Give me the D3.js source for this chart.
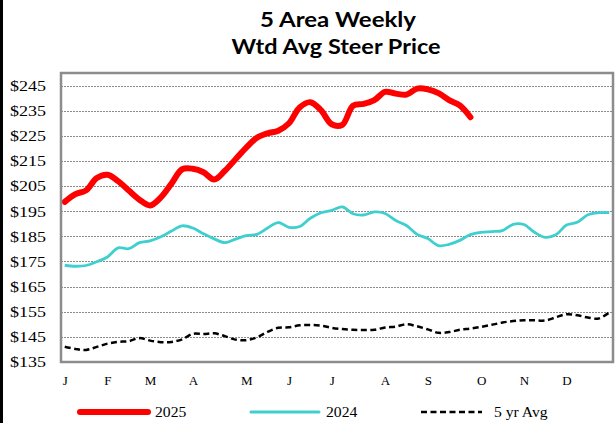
<!DOCTYPE html>
<html>
<head>
<meta charset="utf-8">
<script src="https://cdn.jsdelivr.net/npm/d3@7"></script>
<style>
  body { margin: 0; background: #fff; }
  svg { display: block; }
</style>
</head>
<body>
<script>
// weekly data
var weeks = d3.range(1, 53);

var monthLabels = ["J", "F", "M", "A", "M", "J", "J", "A", "S", "O", "N", "D"];
var monthWeeks  = [1, 5, 9, 13, 18, 22, 26, 31, 35, 40, 44, 48];

var yTicks = [135, 145, 155, 165, 175, 185, 195, 205, 215, 225, 235, 245];

var price2025 = [198.7, 201.8, 203.3, 208.2, 209.5, 207.0, 203.2, 199.6, 197.3, 200.5,
                 206.0, 211.7, 211.9, 210.5, 207.6, 211.1, 215.7, 220.3, 224.2, 226.0,
                 227.0, 230.0, 236.3, 238.4, 235.2, 229.6, 229.4, 237.0, 237.7, 239.2,
                 242.5, 241.8, 241.4, 243.8, 243.5, 242.0, 239.2, 237.1, 232.4];

var price2024 = [173.5, 173.1, 173.4, 174.9, 176.8, 180.4, 180.1, 182.5, 183.2, 184.8,
                 187.1, 189.2, 188.3, 186.0, 184.0, 182.5, 183.9, 185.3, 185.8, 188.3,
                 190.5, 188.6, 188.9, 192.2, 194.4, 195.3, 196.7, 194.0, 193.5, 194.7,
                 194.1, 191.3, 189.3, 185.8, 184.1, 181.3, 181.8, 183.4, 185.7, 186.6,
                 186.9, 187.3, 189.8, 189.7, 186.6, 184.6, 185.6, 189.5, 190.6, 193.6,
                 194.4, 194.4];

var price5yr = [141.1, 140.2, 139.8, 141.0, 142.3, 143.0, 143.3, 144.5, 143.5, 142.9,
                143.0, 144.0, 146.2, 146.1, 146.4, 145.3, 143.9, 143.7, 144.8, 147.0,
                148.6, 148.8, 149.6, 149.7, 149.5, 148.6, 148.1, 147.8, 147.7, 147.8,
                148.7, 149.1, 150.0, 149.2, 148.0, 146.6, 146.9, 147.8, 148.3, 149.0,
                149.8, 150.7, 151.3, 151.6, 151.6, 151.5, 152.8, 154.0, 153.6, 152.7,
                152.3, 154.7];

var seriesNames = ["2025", "2024", "5 yr Avg"];

// speelveld
var W = 615, H = 423;
var plot = {left: 61, right: 613, top: 73, bottom: 362};

var svg = d3.select("body").append("svg")
    .attr("width", W)
    .attr("height", H);

svg.append("rect").attr("width", W).attr("height", H).attr("fill", "#fff");
// black strip on the left edge of the original picture
svg.append("rect").attr("x", 0).attr("y", 0).attr("width", 3).attr("height", H).attr("fill", "#000");

var x = d3.scalePoint().domain(weeks).range([plot.left, plot.right]).padding(0.35);
var y = d3.scaleLinear().domain([135, 250]).range([plot.bottom, plot.top]);

// title
var title = svg.append("g")
    .attr("font-family", "Lato, 'Open Sans', sans-serif")
    .attr("font-weight", "bold")
    .attr("font-size", "21px")
    .attr("fill", "#000")
    .attr("text-anchor", "middle");
title.append("text").attr("x", 338).attr("y", 27)
    .attr("textLength", 156).attr("lengthAdjust", "spacingAndGlyphs")
    .text("5 Area Weekly");
title.append("text").attr("x", 336).attr("y", 54)
    .attr("textLength", 209).attr("lengthAdjust", "spacingAndGlyphs")
    .text("Wtd Avg Steer Price");

// gridlines
svg.append("g")
  .selectAll("line")
  .data(yTicks.filter(function(d) { return d > 135; }))
  .enter().append("line")
    .attr("x1", plot.left)
    .attr("x2", plot.right)
    .attr("y1", function(d) { return Math.round(y(d)) + 0.5; })
    .attr("y2", function(d) { return Math.round(y(d)) + 0.5; })
    .attr("stroke", "#8a8a8a")
    .attr("stroke-width", 1)
    .attr("stroke-dasharray", "2,1");

// y as
var yAxis = svg.append("g")
    .attr("transform", "translate(46,0)")
    .call(d3.axisLeft(y).tickValues(yTicks).tickSize(0).tickPadding(0)
      .tickFormat(function(d) { return "$" + d; }));
yAxis.select(".domain").remove();
yAxis.selectAll("text")
    .attr("font-family", "'Liberation Serif', 'Times New Roman', serif")
    .attr("font-size", "15px")
    .attr("fill", "#000")
    .attr("transform", "scale(1.2,1)")
    .attr("x", 0);

// x as
var xAxis = svg.append("g")
    .attr("transform", "translate(0," + plot.bottom + ")")
    .call(d3.axisBottom(x).tickValues(monthWeeks).tickSize(0).tickPadding(14)
      .tickFormat(function(d, i) { return monthLabels[i]; }));
xAxis.select(".domain").remove();
xAxis.selectAll("text")
    .attr("font-family", "'Liberation Serif', 'Times New Roman', serif")
    .attr("font-size", "13px")
    .attr("fill", "#000");

// lijnen
var line = d3.line()
    .x(function(d, i) { return x(weeks[i]); })
    .y(function(d) { return y(d); })
    .curve(d3.curveCatmullRom.alpha(0.5));

svg.append("path")
    .datum(price5yr)
    .attr("fill", "none")
    .attr("stroke", "#000")
    .attr("stroke-width", 2.5)
    .attr("stroke-dasharray", "6,3.5")
    .attr("d", line);

svg.append("path")
    .datum(price2024)
    .attr("fill", "none")
    .attr("stroke", "#40cfcf")
    .attr("stroke-width", 2.8)
    .attr("stroke-linejoin", "round")
    .attr("d", line);

svg.append("path")
    .datum(price2025)
    .attr("fill", "none")
    .attr("stroke", "#ff0000")
    .attr("stroke-width", 6)
    .attr("stroke-linecap", "round")
    .attr("stroke-linejoin", "round")
    .attr("d", line);

// frame
svg.append("rect")
    .attr("x", plot.left)
    .attr("y", plot.top)
    .attr("width", plot.right - plot.left)
    .attr("height", plot.bottom - plot.top)
    .attr("fill", "none")
    .attr("stroke", "#8c8c8c")
    .attr("stroke-width", 2.5);

// legenda
var legendStyle = [
  {x1: 80, x2: 148, color: "#ff0000", width: 6, dash: null, cap: "round", tx: 155},
  {x1: 251, x2: 319, color: "#40cfcf", width: 3, dash: null, cap: "round", tx: 326},
  {x1: 421, x2: 482, color: "#000", width: 2.5, dash: "6,3.5", cap: "butt", tx: 494}
];
var legend = svg.append("g").selectAll("g")
    .data(seriesNames)
    .enter().append("g");
legend.append("line")
    .attr("x1", function(d, i) { return legendStyle[i].x1; })
    .attr("x2", function(d, i) { return legendStyle[i].x2; })
    .attr("y1", 412).attr("y2", 412)
    .attr("stroke", function(d, i) { return legendStyle[i].color; })
    .attr("stroke-width", function(d, i) { return legendStyle[i].width; })
    .attr("stroke-dasharray", function(d, i) { return legendStyle[i].dash; })
    .attr("stroke-linecap", function(d, i) { return legendStyle[i].cap; });
legend.append("text")
    .attr("transform", function(d, i) { return "translate(" + legendStyle[i].tx + ",417) scale(1.12,1)"; })
    .attr("font-family", "'Liberation Serif', 'Times New Roman', serif")
    .attr("font-size", "14px")
    .attr("fill", "#000")
    .text(function(d) { return d; });
</script>
</body>
</html>
